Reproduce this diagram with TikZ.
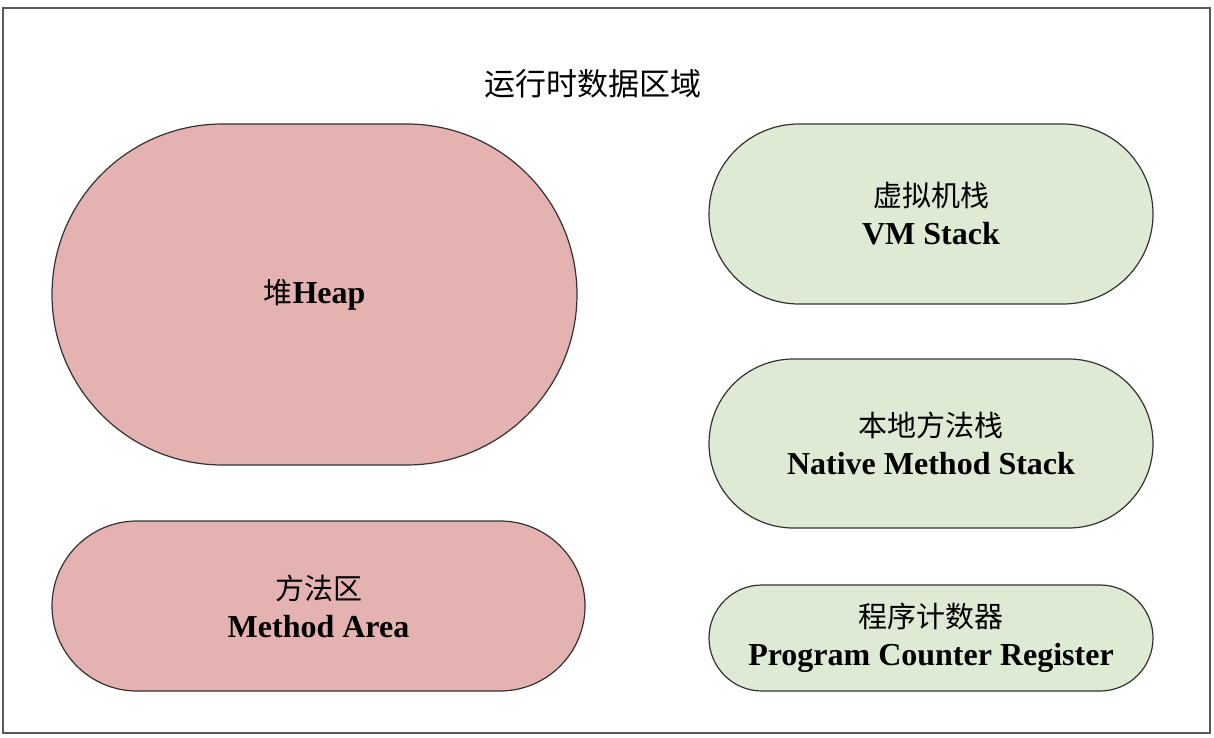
\documentclass[tikz,border=0pt]{standalone}
\usepackage{fontspec}
\setmainfont{Liberation Serif}
\newfontfamily\cjkfont{Noto Sans CJK SC}
\usetikzlibrary{shapes.misc}
\newcommand{\zhtxt}[1]{{\mdseries\cjkfont\fontsize{29}{38}\selectfont #1}}
\definecolor{heapfill}{RGB}{229,178,178}
\definecolor{stackfill}{RGB}{222,234,212}
\definecolor{edgegray}{RGB}{50,50,50}
\tikzset{
  area/.style={rounded rectangle, draw=edgegray, line width=1.2pt, align=center,
    inner sep=0pt, font=\fontsize{32}{38}\selectfont\bfseries},
  heaparea/.style={area, fill=heapfill},
  stackarea/.style={area, fill=stackfill},
}
\begin{document}
\begin{tikzpicture}[x=1pt,y=-1pt]
\useasboundingbox (0,0) rectangle (1214,738);
\node[draw=black!65, line width=1.6pt, minimum width=1207pt, minimum height=725pt, inner sep=0pt] (frame) at (606.5,370.5) {};
\node[font=\fontsize{31}{36}\selectfont] (title) at (593,84) {\zhtxt{\fontsize{31}{36}\selectfont 运行时数据区域}};
\node[heaparea, minimum width=525pt, minimum height=341pt] (heap) at (314.5,294.5) {\zhtxt{堆}Heap};
\node[heaparea, minimum width=533pt, minimum height=170pt] (method) at (318.5,606) {\zhtxt{方法区}\\Method Area};
\node[stackarea, minimum width=444pt, minimum height=180pt] (vm) at (931,214) {\zhtxt{虚拟机栈}\\VM Stack};
\node[stackarea, minimum width=444pt, minimum height=169pt] (native) at (931,443.5) {\zhtxt{本地方法栈}\\Native Method Stack};
\node[stackarea, minimum width=444pt, minimum height=106pt] (pc) at (931,638) {\zhtxt{程序计数器}\\Program Counter Register};
\end{tikzpicture}
\end{document}
